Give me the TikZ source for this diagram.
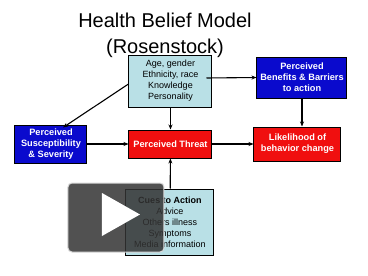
\documentclass[tikz,border=0pt]{standalone}
\usepackage{fontspec}
\setmainfont{Liberation Sans}
\usetikzlibrary{arrows.meta}
\definecolor{factor}{RGB}{185,224,230}
\definecolor{percept}{RGB}{10,10,205}
\definecolor{threatred}{RGB}{240,15,15}

\begin{document}
\begin{tikzpicture}[x=1pt, y=-1pt,
  box/.style={draw=black, line width=1pt, align=center, inner sep=1pt, font=\fontsize{9}{11}\selectfont},
  lightbox/.style={box, fill=factor, text=black},
  bluebox/.style={box, fill=percept, text=white, font=\fontsize{9.2}{11}\selectfont\bfseries},
  redbox/.style={box, fill=threatred, text=white, font=\fontsize{9.2}{11}\selectfont\bfseries},
  arrow/.style={draw=black, line width=1.1pt, -{Stealth[length=5pt, width=4pt]}}
]
\useasboundingbox[fill=white] (0,0) rectangle (368,276);
\node[font=\fontsize{20}{26}\selectfont, align=center] (title) at (165,35) {Health Belief Model\\(Rosenstock)};
\node[lightbox, minimum width=83pt, minimum height=52pt] (demo) at (170.5,81) {Age, gender\\Ethnicity, race\\Knowledge\\Personality};
\node[bluebox, minimum width=90pt, minimum height=41pt] (benefit) at (302,77.5) {Perceived\\Benefits \& Barriers\\to action};
\node[bluebox, minimum width=72pt, minimum height=38pt] (suscept) at (51,144) {Perceived\\Susceptibility\\\& Severity};
\node[redbox, minimum width=83pt, minimum height=28pt] (threat) at (170.5,144) {Perceived Threat};
\node[redbox, minimum width=87pt, minimum height=34pt] (likely) at (297.5,144) {Likelihood of\\behavior change};
\node[lightbox, minimum width=88pt, minimum height=66pt] (cues) at (170,222) {\textbf{Cues to Action}\\Advice\\Others illness\\Symptoms\\Media information};
% connectors
\draw[arrow] ([shift={(-6,-3)}]demo.east) -- (benefit.west);
\draw[arrow] ([yshift=-3]demo.west) -- ([xshift=12,yshift=-3]suscept.north);
\draw[arrow] (demo) -- (threat);
\draw[arrow] (benefit) -- (benefit |- likely.north);
\draw[arrow] (suscept) -- (threat);
\draw[arrow] (threat) -- (likely);
\draw[arrow] (cues) -- (threat);
% play overlay
\fill[black!80, opacity=0.85, rounded corners=4pt] (68,183) rectangle (164,252);
\draw[black!15, line width=1pt, rounded corners=4pt] (68,183) rectangle (164,252);
\fill[white] (102,193) -- (102,236) -- (140,214.5) -- cycle;
\end{tikzpicture}
\end{document}
